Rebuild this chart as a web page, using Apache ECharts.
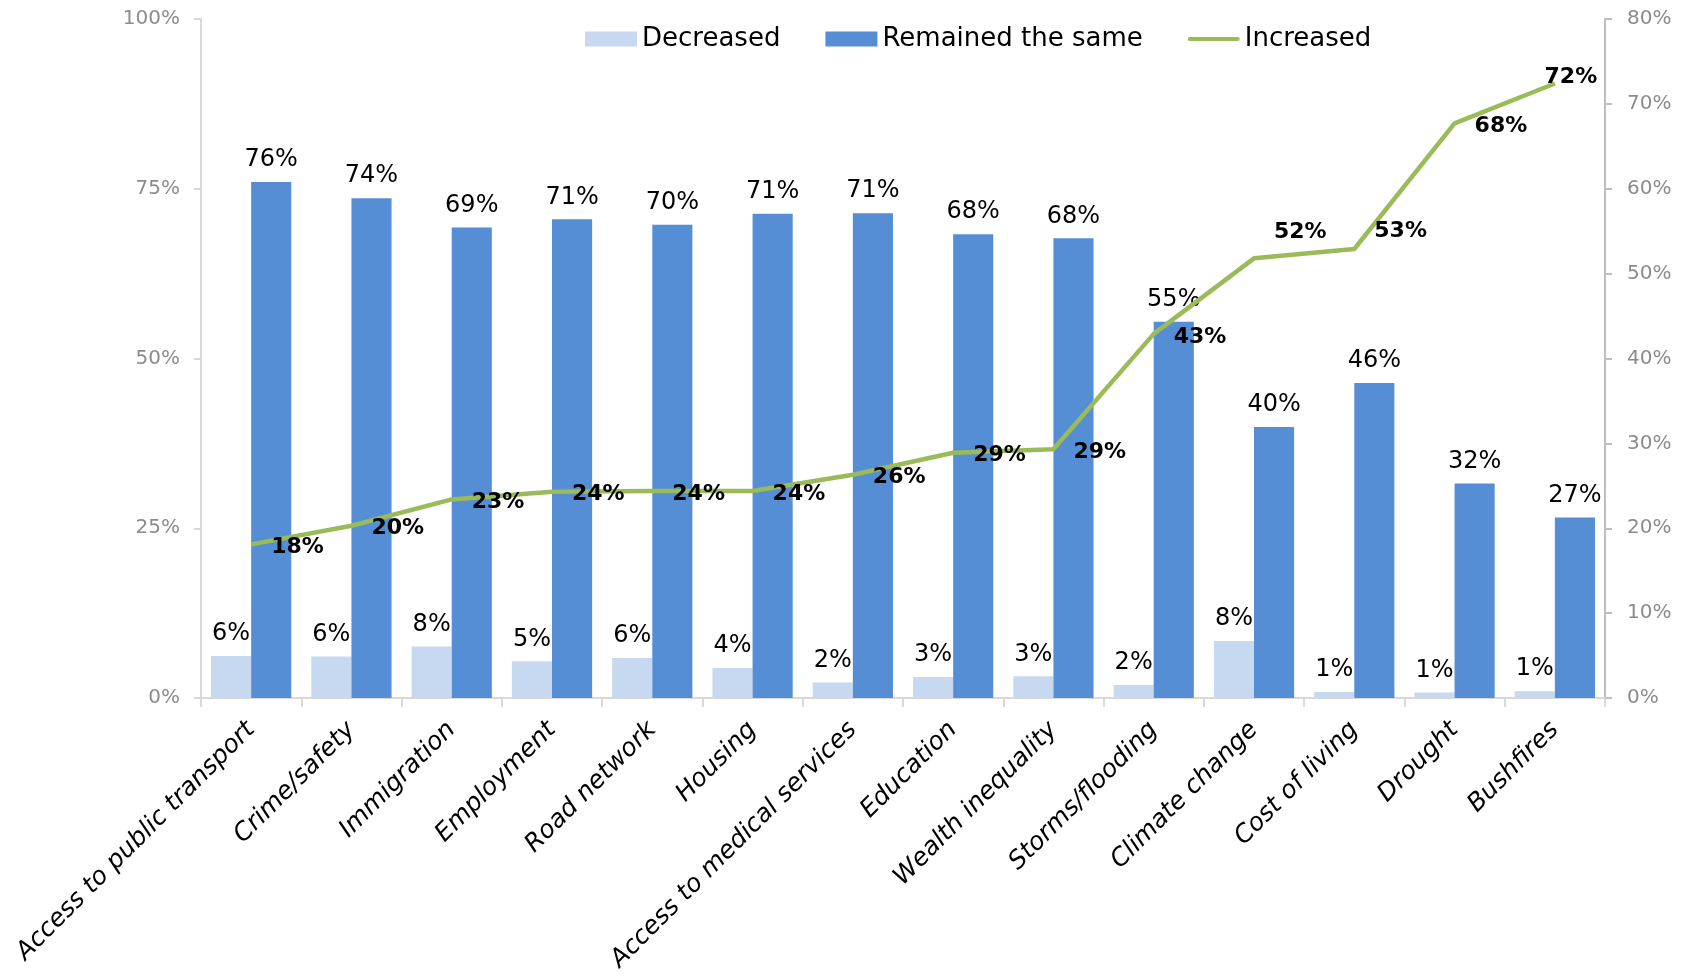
<!DOCTYPE html>
<html>
<head>
<meta charset="utf-8">
<script src="https://cdn.jsdelivr.net/npm/echarts@6/dist/echarts.min.js"></script>
<style>
html,body{margin:0;padding:0;background:#fff;}
#chart{width:1692px;height:978px;}
</style>
</head>
<body>
<div id="chart"></div>
<script>
const categories = ['Access to public transport','Crime/safety','Immigration','Employment','Road network','Housing','Access to medical services','Education','Wealth inequality','Storms/flooding','Climate change','Cost of living','Drought','Bushfires'];
const decreased = [6.2, 6.1, 7.6, 5.4, 5.9, 4.4, 2.3, 3.1, 3.2, 1.9, 8.4, 0.9, 0.8, 1.0];
const remained = [76.0, 73.6, 69.3, 70.5, 69.7, 71.3, 71.4, 68.3, 67.7, 55.4, 39.9, 46.4, 31.6, 26.6];
const increased = [18.1, 20.3, 23.4, 24.3, 24.4, 24.4, 26.3, 28.9, 29.3, 42.9, 51.8, 52.9, 67.7, 72.4];
const leftTicks = {min: 0, max: 100, interval: 25};
const rightTicks = {min: 0, max: 80, interval: 10};

const FONT = 'DejaVu Sans';
const chart = echarts.init(document.getElementById('chart'));
const pct = p => Math.round(p.value) + '%';

// label placement tweaks for the line (by category index)
const labelTweaks = {
  10: {offset: [0, -26]},
  11: {offset: [0, -18]},
  13: {position: 'inside', offset: [16, -6]}
};
const incData = increased.map((v, i) => labelTweaks[i] ? {value: v, label: labelTweaks[i]} : v);

const lineIcon = 'path://M0,0L0,0Z M52,15L52,15Z M2,5.5L50,5.5A2,2 0 0 1 50,9.5L2,9.5A2,2 0 0 1 2,5.5Z';

chart.setOption({
  animation: false,
  textStyle: {fontFamily: FONT},
  grid: {left: 201, right: 87, top: 19, bottom: 280, containLabel: false},
  legend: {
    left: 580, top: 21,
    itemWidth: 52, itemHeight: 15, itemGap: 45,
    textStyle: {fontFamily: FONT, fontSize: 26, color: '#000'},
    data: [
      {name: 'Decreased', icon: 'rect'},
      {name: 'Remained the same', icon: 'rect'},
      {name: 'Increased', icon: lineIcon, itemStyle: {color: '#9BBB59'}}
    ]
  },
  xAxis: {
    type: 'category',
    data: categories,
    boundaryGap: true,
    axisLine: {show: true, lineStyle: {color: '#D9D9D9', width: 2}},
    axisTick: {show: true, length: 9, lineStyle: {color: '#D9D9D9', width: 2}},
    axisLabel: {rotate: 45, margin: 28, fontFamily: FONT, fontStyle: 'italic', fontSize: 25, color: '#000', interval: 0}
  },
  yAxis: [
    {
      type: 'value', min: leftTicks.min, max: leftTicks.max, interval: leftTicks.interval,
      splitLine: {show: false},
      axisLine: {show: true, lineStyle: {color: '#D9D9D9', width: 2}},
      axisTick: {show: true, length: 7, lineStyle: {color: '#D9D9D9', width: 2}},
      axisLabel: {formatter: '{value}%', fontFamily: FONT, fontSize: 20, color: '#8C8C8C', margin: 21}
    },
    {
      type: 'value', min: rightTicks.min, max: rightTicks.max, interval: rightTicks.interval,
      position: 'right',
      splitLine: {show: false},
      axisLine: {show: true, lineStyle: {color: '#BFBFBF', width: 2}},
      axisTick: {show: true, length: 7, lineStyle: {color: '#BFBFBF', width: 2}},
      axisLabel: {formatter: '{value}%', fontFamily: FONT, fontSize: 20, color: '#8C8C8C', margin: 22}
    }
  ],
  series: [
    {
      name: 'Decreased', type: 'bar', data: decreased, yAxisIndex: 0,
      barGap: '0%', barCategoryGap: '20%',
      itemStyle: {color: '#C6D9F0'},
      label: {show: true, position: 'top', formatter: pct, fontFamily: FONT, fontSize: 24, color: '#000', distance: 10}
    },
    {
      name: 'Remained the same', type: 'bar', data: remained, yAxisIndex: 0,
      barGap: '0%', barCategoryGap: '20%',
      itemStyle: {color: '#558ED5'},
      label: {show: true, position: 'top', formatter: pct, fontFamily: FONT, fontSize: 24, color: '#000', distance: 10}
    },
    {
      name: 'Increased', type: 'line', data: incData, yAxisIndex: 1,
      symbol: 'circle', symbolSize: 0, showSymbol: true, z: 10,
      lineStyle: {color: '#9BBB59', width: 4.5},
      itemStyle: {color: '#9BBB59'},
      label: {show: true, position: 'right', distance: 20, offset: [0, 3], formatter: pct, fontFamily: FONT, fontSize: 22, fontWeight: 'bold', color: '#000'}
    }
  ]
});
</script>
</body>
</html>
